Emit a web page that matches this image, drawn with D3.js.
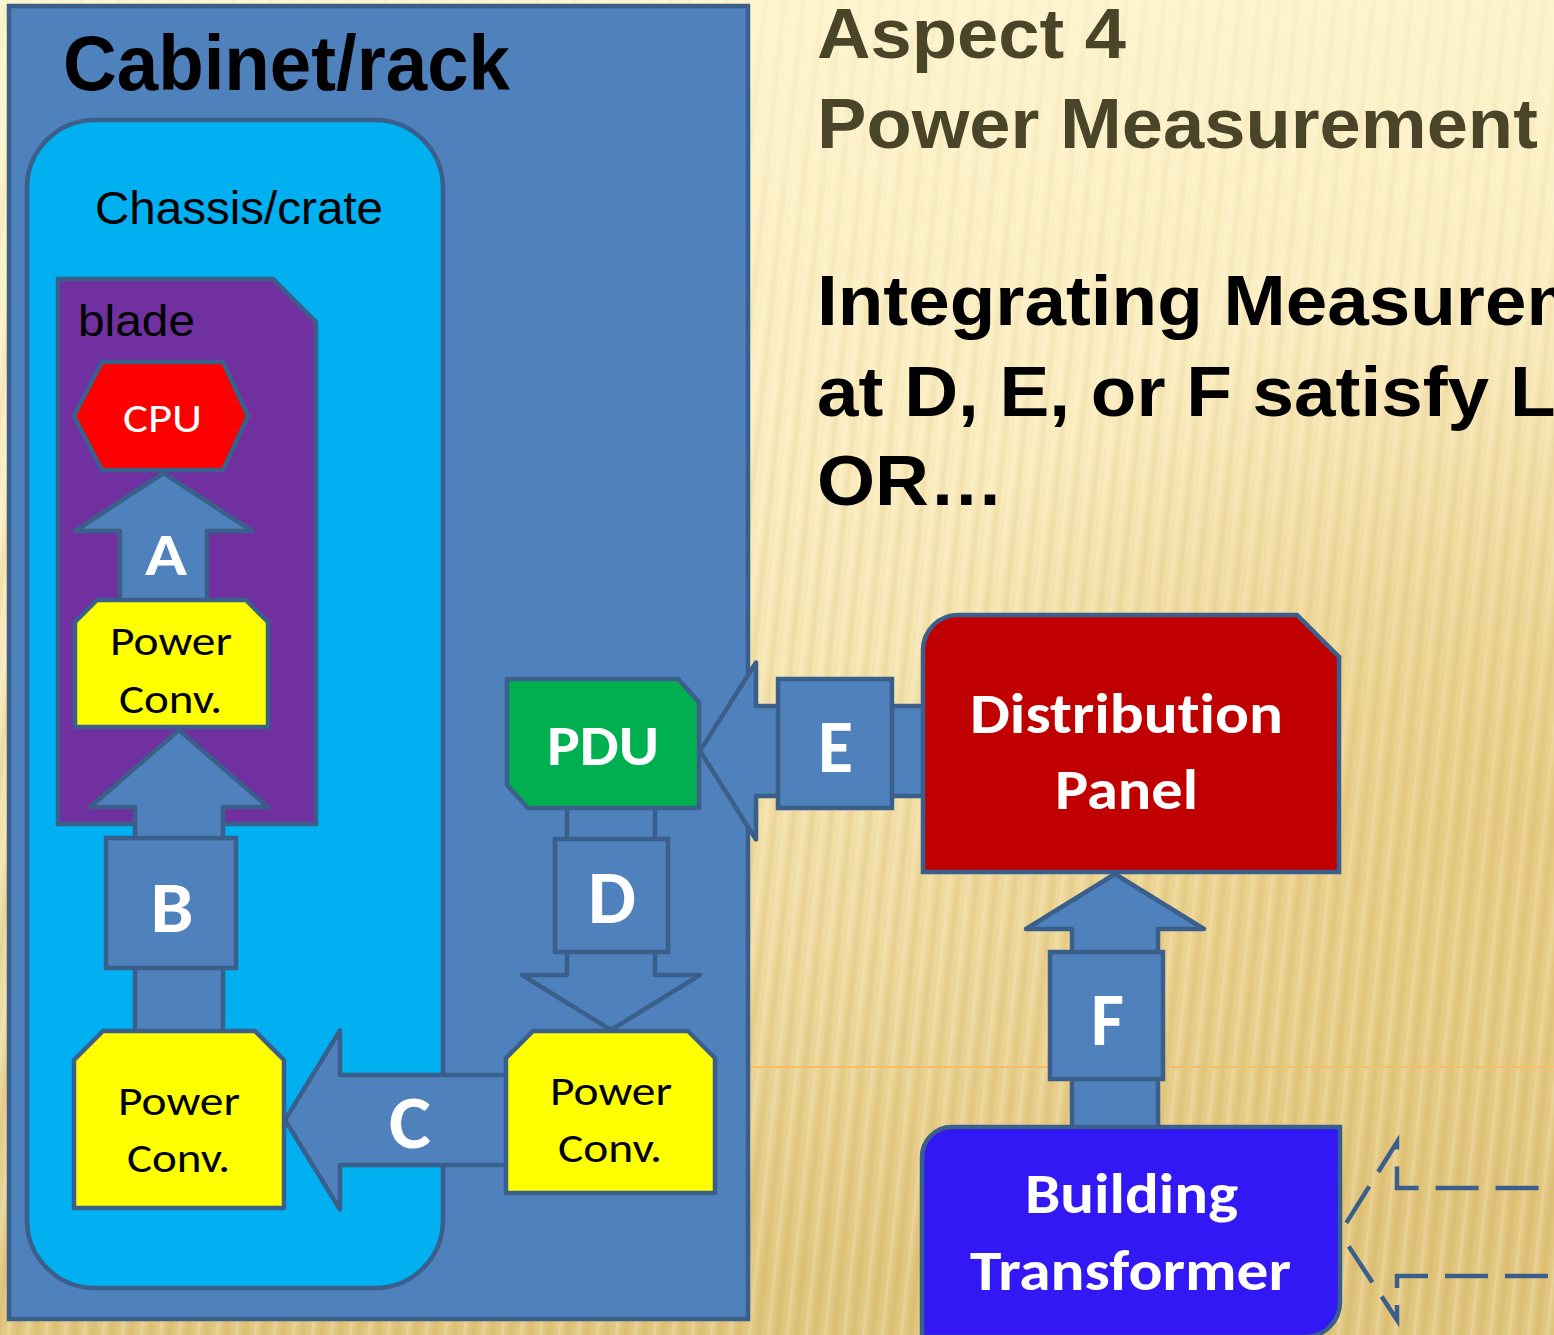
<!DOCTYPE html>
<html><head><meta charset="utf-8">
<script src="https://cdn.jsdelivr.net/npm/d3@7"></script>
<style>html,body{margin:0;padding:0;background:#fff;overflow:hidden}svg{display:block}text{font-variant-ligatures:none}</style>
</head><body><svg id="c" width="1554" height="1335"></svg>
<script>
// ---------- content (data) ----------
const measurementPoints = ["A", "B", "C", "D", "E", "F"];
const containerLabels = ["Cabinet/rack", "Chassis/crate", "blade"];
const cpuLabel = ["CPU"];
const powerConvLabel = ["Power", "Conv."];
const pduLabel = ["PDU"];
const panelLabel = ["Distribution", "Panel"];
const transformerLabel = ["Building", "Transformer"];
const titleLines = ["Aspect 4", "Power Measurement"];
const bodyLines = ["Integrating Measurements", "at D, E, or F satisfy Level 1", "OR…"];

// ---------- styles ----------
const EDGE = "#3A5F8B", ARROW = "#4F81BD";
const CAL = "Carlito, Lato, 'Open Sans', sans-serif";
const ARIAL = "'Liberation Sans', Arial, sans-serif";

const svg = d3.select("#c");
const defs = svg.append("defs");
const line = d3.line();
const poly = pts => line(pts) + "Z";

// background
const bg = defs.append("linearGradient").attr("id", "bg").attr("x1", 0).attr("y1", 0).attr("x2", 0.12).attr("y2", 1);
[[0, "#FEF6D3"], [0.4, "#FBEEC2"], [0.75, "#F0DCA2"], [1, "#E2C780"]].forEach(([o, c]) => bg.append("stop").attr("offset", o).attr("stop-color", c));
const gold = defs.append("radialGradient").attr("id", "gold").attr("cx", 0.98).attr("cy", 0.62).attr("r", 0.42);
gold.append("stop").attr("offset", 0).attr("stop-color", "#E4C475").attr("stop-opacity", 0.7);
gold.append("stop").attr("offset", 1).attr("stop-color", "#E4C475").attr("stop-opacity", 0);
const sg = defs.append("linearGradient").attr("id", "sg").attr("x1", 0).attr("x2", 1).attr("y1", 0).attr("y2", 0);
[[0, "#C9A24E", 0], [0.3, "#C9A24E", 0.32], [0.55, "#C9A24E", 0], [0.8, "#FFFBEA", 0.32], [1, "#FFFBEA", 0]]
  .forEach(([o, c, a]) => sg.append("stop").attr("offset", o).attr("stop-color", c).attr("stop-opacity", a));
const pat = defs.append("pattern").attr("id", "stripes").attr("patternUnits", "userSpaceOnUse")
  .attr("width", 19).attr("height", 40).attr("patternTransform", "skewX(-6)");
pat.append("rect").attr("width", 19).attr("height", 40).attr("fill", "url(#sg)");
const mg = defs.append("linearGradient").attr("id", "mg").attr("x1", 0).attr("y1", 0).attr("x2", 0).attr("y2", 1);
mg.append("stop").attr("offset", 0).attr("stop-color", "#fff").attr("stop-opacity", 0.2);
mg.append("stop").attr("offset", 0.4).attr("stop-color", "#fff").attr("stop-opacity", 0.55);
mg.append("stop").attr("offset", 1).attr("stop-color", "#fff").attr("stop-opacity", 0.8);
defs.append("mask").attr("id", "m").append("rect").attr("width", 1554).attr("height", 1335).attr("fill", "url(#mg)");

svg.append("rect").attr("width", 1554).attr("height", 1335).attr("fill", "url(#bg)");
svg.append("rect").attr("width", 1554).attr("height", 1335).attr("fill", "url(#gold)");
svg.append("rect").attr("width", 1554).attr("height", 1335).attr("fill", "url(#stripes)").attr("mask", "url(#m)");

// orange template line
svg.append("line").attr("x1", 748).attr("x2", 1554).attr("y1", 1067).attr("y2", 1067)
  .attr("stroke", "#F5BE68").attr("stroke-width", 2);

// helpers
function shape(d, fill) {
  return svg.append("path").attr("d", d).attr("fill", fill).attr("stroke", EDGE).attr("stroke-width", 4.5)
    .attr("stroke-linejoin", "round");
}
function label(txt, x, y, size, len, opt = {}) {
  return svg.append("text").attr("x", x).attr("y", y).text(txt)
    .attr("font-family", opt.family || CAL).attr("font-size", size)
    .attr("font-weight", opt.weight || "normal").attr("fill", opt.fill || "#000")
    .attr("text-anchor", opt.anchor || "middle")
    .attr("textLength", len).attr("lengthAdjust", "spacingAndGlyphs");
}
function upArrow(cx, tipY, baseY, hh, sh, endY) {
  return poly([[cx, tipY], [cx + hh, baseY], [cx + sh, baseY], [cx + sh, endY], [cx - sh, endY], [cx - sh, baseY], [cx - hh, baseY]]);
}
function downArrow(cx, tipY, baseY, hh, sh, startY) {
  return poly([[cx, tipY], [cx - hh, baseY], [cx - sh, baseY], [cx - sh, startY], [cx + sh, startY], [cx + sh, baseY], [cx + hh, baseY]]);
}
function leftArrow(cy, tipX, baseX, hh, sh, endX) {
  return poly([[tipX, cy], [baseX, cy - hh], [baseX, cy - sh], [endX, cy - sh], [endX, cy + sh], [baseX, cy + sh], [baseX, cy + hh]]);
}
function snipTop(x0, y0, x1, y1, s) {
  return poly([[x0, y0 + s], [x0 + s, y0], [x1 - s, y0], [x1, y0 + s], [x1, y1], [x0, y1]]);
}
function box(x0, y0, x1, y1) { return poly([[x0, y0], [x1, y0], [x1, y1], [x0, y1]]); }

// ---------- cabinet ----------
shape(box(9, 6, 748, 1319), ARROW).attr("stroke-linejoin", "miter");
label(containerLabels[0], 63, 90, 77, 447, { family: ARIAL, weight: "bold", anchor: "start" });

// chassis
svg.append("rect").attr("x", 27).attr("y", 120).attr("width", 416).attr("height", 1168).attr("rx", 68)
  .attr("fill", "#00B0F0").attr("stroke", EDGE).attr("stroke-width", 4.5);
label(containerLabels[1], 95, 224, 46, 288, { family: ARIAL, anchor: "start" });

// blade
shape(poly([[58, 279], [273, 279], [316, 322], [316, 824], [58, 824]]), "#7030A0").attr("stroke-linejoin", "miter");
label(containerLabels[2], 78, 336, 45, 117, { family: ARIAL, anchor: "start" });

// Arrow B + box
shape(upArrow(179, 730, 807, 89, 44, 1033), ARROW);
shape(box(106, 838, 236, 968), ARROW).attr("stroke-linejoin", "miter");
label(measurementPoints[1], 172, 932, 72, 43, { weight: "bold", fill: "#fff" });

// Arrow A
shape(upArrow(163.5, 473, 531, 88.5, 43.5, 602), ARROW);
label(measurementPoints[0], 166, 575, 60, 42, { weight: "bold", fill: "#fff" });

// CPU
shape(poly([[74, 416], [102, 362], [223, 362], [248, 416], [223, 470], [102, 470]]), "#FF0000");
label(cpuLabel[0], 162.5, 432, 42, 79, { fill: "#fff" });

// blade power conv
shape(snipTop(75, 600, 268, 727, 22), "#FFFF00");
label(powerConvLabel[0], 171, 655, 40, 122);
label(powerConvLabel[1], 170.5, 713, 40, 103);

// Arrow C
shape(leftArrow(1120, 285, 340, 89.5, 45, 510), ARROW);
label(measurementPoints[2], 410, 1148, 74, 42, { weight: "bold", fill: "#fff" });

// lower-left power conv
shape(snipTop(74, 1031, 284, 1208, 29), "#FFFF00");
label(powerConvLabel[0], 179, 1115, 40, 122);
label(powerConvLabel[1], 178.5, 1172, 40, 103);

// Arrow D + box
shape(downArrow(611, 1030, 975, 89, 44, 806), ARROW);
shape(box(555, 839, 668, 952), ARROW).attr("stroke-linejoin", "miter");
label(measurementPoints[3], 612, 923, 74, 48, { weight: "bold", fill: "#fff" });

// right power conv
shape(snipTop(506, 1031, 715, 1193, 27), "#FFFF00");
label(powerConvLabel[0], 611, 1105, 40, 122);
label(powerConvLabel[1], 610, 1162, 40, 104);

// PDU
shape(poly([[507, 679], [678, 679], [699, 702], [699, 808], [528, 808], [507, 785]]), "#00B050");
label(pduLabel[0], 603, 765, 56, 112, { weight: "bold", fill: "#fff" });

// Arrow E + box
shape(leftArrow(751, 700, 756, 88.5, 45, 925), ARROW);
shape(box(778, 679, 892, 808), ARROW).attr("stroke-linejoin", "miter");
label(measurementPoints[4], 835.5, 772, 74, 35, { weight: "bold", fill: "#fff" });

// Distribution panel
shape("M923,872L923,650A35,35 0 0 1 958,615L1297,615L1339,657L1339,872Z", "#C00000").attr("stroke-linejoin", "miter");
label(panelLabel[0], 1126.5, 733, 57, 313, { weight: "bold", fill: "#fff" });
label(panelLabel[1], 1126.5, 809, 57, 143, { weight: "bold", fill: "#fff" });

// Arrow F + box
shape(upArrow(1115, 874, 929, 89, 43, 1130), ARROW);
shape(box(1050, 952, 1163, 1079), ARROW).attr("stroke-linejoin", "miter");
label(measurementPoints[5], 1107.5, 1045, 75, 33, { weight: "bold", fill: "#fff" });

// Building transformer
shape("M922,1337L922,1157A30,30 0 0 1 952,1127L1340,1127L1340,1302A35,35 0 0 1 1305,1337Z", "#3318F6").attr("stroke-linejoin", "miter");
label(transformerLabel[0], 1131.5, 1213, 56, 213, { weight: "bold", fill: "#fff" });
label(transformerLabel[1], 1130.5, 1290, 56, 321, { weight: "bold", fill: "#fff" });

// dashed incoming arrow (two halves starting at the tip)
const dashHalves = [
  { pts: [[1340, 1233], [1397, 1142], [1397, 1188], [1560, 1188]], off: 48 },
  { pts: [[1340, 1233], [1397, 1320], [1397, 1276], [1560, 1276]], off: 44 }
];
dashHalves.forEach(h => svg.append("path").attr("d", line(h.pts))
  .attr("fill", "none").attr("stroke", EDGE).attr("stroke-width", 4.5).attr("stroke-dasharray", "43,17")
  .attr("stroke-dashoffset", h.off).attr("stroke-linejoin", "miter"));

// ---------- right-hand text ----------
const NARROW = "'Liberation Sans Narrow', 'Arial Narrow', 'Liberation Sans', Arial, sans-serif";
const probe = svg.append("text").text(titleLines[1]).attr("font-family", NARROW).attr("font-weight", "bold").attr("font-size", 70);
const k = 721 / probe.node().getComputedTextLength();
probe.remove();
const gt = svg.append("g").attr("transform", `translate(817,0) scale(${k},1)`);
const titleY = [58, 148];
titleLines.forEach((t, i) => gt.append("text").attr("x", 0).attr("y", titleY[i]).text(t)
  .attr("font-family", NARROW).attr("font-weight", "bold").attr("font-size", 70).attr("fill", "#4A4428"));
const bodyY = [325, 416, 505];
bodyLines.forEach((t, i) => gt.append("text").attr("x", 0).attr("y", bodyY[i]).text(t)
  .attr("font-family", NARROW).attr("font-weight", "bold").attr("font-size", 70.5).attr("fill", "#000"));
</script>
</body></html>
